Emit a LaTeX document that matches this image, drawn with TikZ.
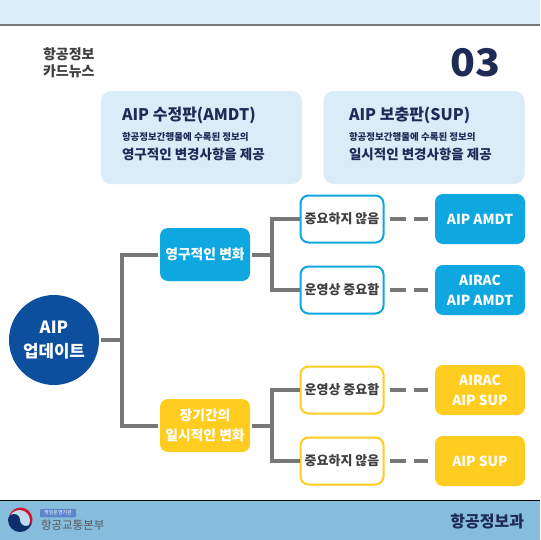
\documentclass[tikz,border=0pt]{standalone}
\usepackage{fontspec}
\setmainfont{Noto Sans CJK KR}
\definecolor{skyband}{HTML}{D9ECF8}
\definecolor{footband}{HTML}{86BDDD}
\definecolor{navy}{HTML}{1F2A56}
\definecolor{rootblue}{HTML}{0B4F9E}
\definecolor{permblue}{HTML}{0EA7E0}
\definecolor{tempyellow}{HTML}{FFCD20}
\definecolor{linegray}{HTML}{777777}
\definecolor{tagblue}{HTML}{5B86C9}
\definecolor{flagred}{HTML}{D5132F}
\definecolor{flagblue}{HTML}{0B2F6B}

\begin{document}
\begin{tikzpicture}[x=1pt,y=-1pt,line width=4pt]
	\tikzstyle{every node} = [align=center,inner sep=0pt,font=\bfseries\fontsize{13}{15}\selectfont]
	\tikzstyle{info} = [rectangle,rounded corners=10pt,fill=skyband,minimum width=201pt,minimum height=93pt]
	\tikzstyle{cardtitle} = [text=navy,anchor=west,font=\bfseries\fontsize{16}{18}\selectfont]
	\tikzstyle{cardsub} = [text=navy,anchor=west,font=\bfseries\fontsize{9.5}{11}\selectfont]
	\tikzstyle{cardnote} = [text=navy,anchor=west,font=\bfseries\fontsize{13.5}{15}\selectfont]
	\tikzstyle{change} = [rectangle,rounded corners=8pt,text=white,minimum width=90pt,minimum height=53pt,font=\bfseries\fontsize{13.8}{19.5}\selectfont]
	\tikzstyle{check} = [rectangle,rounded corners=8pt,fill=white,line width=2pt,text=black!75,minimum width=83pt,minimum height=47pt]
	\tikzstyle{result} = [rectangle,rounded corners=8pt,text=white,minimum width=90pt,minimum height=50pt,font=\bfseries\fontsize{13.8}{20}\selectfont]
	\useasboundingbox (0,0) rectangle (540,540);
	\fill[white] (0,0) rectangle (540,540);
	% top and bottom bands
	\fill[skyband] (0,0) rectangle (540,24);
	\fill[linegray] (0,24) rectangle (540,26);
	\fill[footband] (0,500) rectangle (540,540);
	\fill[black] (0,500) rectangle (540,501);
	% heading
	\node[text=black!75,align=left,anchor=west,font=\bfseries\fontsize{14}{17}\selectfont] (series) at (41,63) {항공정보\\카드뉴스};
	\node[text=navy,font=\bfseries\fontsize{38}{38}\selectfont,xscale=1.08] (number) at (475,62.5) {03};
	% info cards
	\node[info] (amdt) at (201.5,137.5) {};
	\node[info] (sup) at (424,137.5) {};
	\node[cardtitle] (amdttitle) at (120,115.5) {AIP 수정판(AMDT)};
	\node[cardsub] (amdtsub) at (120,136.5) {항공정보간행물에 수록된 정보의};
	\node[cardnote] (amdtnote) at (120,154.5) {영구적인 변경사항을 제공};
	\node[cardtitle] (suptitle) at (347,115.5) {AIP 보충판(SUP)};
	\node[cardsub] (supsub) at (347,136.5) {항공정보간행물에 수록된 정보의};
	\node[cardnote] (supnote) at (347,154.5) {일시적인 변경사항을 제공};
	% tree
	\coordinate (rootfork) at (122,340);
	\coordinate (permfork) at (272,254.5);
	\coordinate (tempfork) at (272,425.5);
	\node[circle,fill=rootblue,text=white,minimum size=90pt,font=\bfseries\fontsize{16.8}{24}\selectfont] (root) at (54,340) {AIP\\업데이트};
	\node[change,fill=permblue] (perm) at (205,254.5) {영구적인 변화};
	\node[change,fill=tempyellow] (temp) at (205,425.5) {장기간의\\일시적인 변화};
	\node[check,draw=permblue] (perma) at (342,219) {중요하지 않음};
	\node[check,draw=permblue] (permb) at (342,290) {운영상 중요함};
	\node[check,draw=tempyellow] (tempa) at (342,390) {운영상 중요함};
	\node[check,draw=tempyellow] (tempb) at (342,461) {중요하지 않음};
	\node[result,fill=permblue] (resa) at (480,219) {AIP AMDT};
	\node[result,fill=permblue] (resb) at (480,290) {AIRAC\\AIP AMDT};
	\node[result,fill=tempyellow] (resc) at (480,390) {AIRAC\\AIP SUP};
	\node[result,fill=tempyellow] (resd) at (480,461) {AIP SUP};
	\foreach \from/\to in {root/rootfork, perm/permfork, temp/tempfork}
	\draw [linegray] (\from) -- (\to);
	\foreach \from/\to in {rootfork/perm, rootfork/temp, permfork/perma, permfork/permb, tempfork/tempa, tempfork/tempb}
	\draw [linegray] (\from) |- (\to);
	\foreach \from/\to in {perma/resa, permb/resb, tempa/resc, tempb/resd}
	\draw [linegray,dash pattern=on 16pt off 8pt,shorten <=5pt,shorten >=5pt] (\from) -- (\to);
	% footer
	\fill[flagred] (20.5,519.5) circle (12);
	\fill[white!45!footband] (19.5,520.5) circle (10.5);
	\fill[flagblue] (8,520) arc[start angle=180,end angle=0,radius=12] arc[start angle=0,end angle=180,radius=6] arc[start angle=0,end angle=-180,radius=6] -- cycle;
	\node[rectangle,rounded corners=1pt,fill=tagblue,text=white,minimum width=36pt,minimum height=8.5pt,font=\fontsize{5}{6}\selectfont] (tag) at (58,513) {책임운영기관};
	\node[text=black!65,anchor=west,font=\fontsize{11.5}{14}\selectfont] (ministry) at (39,525) {항공교통본부};
	\node[text=navy,anchor=east,font=\bfseries\fontsize{16}{18}\selectfont] (office) at (526,521.5) {항공정보과};
\end{tikzpicture}
\end{document}
